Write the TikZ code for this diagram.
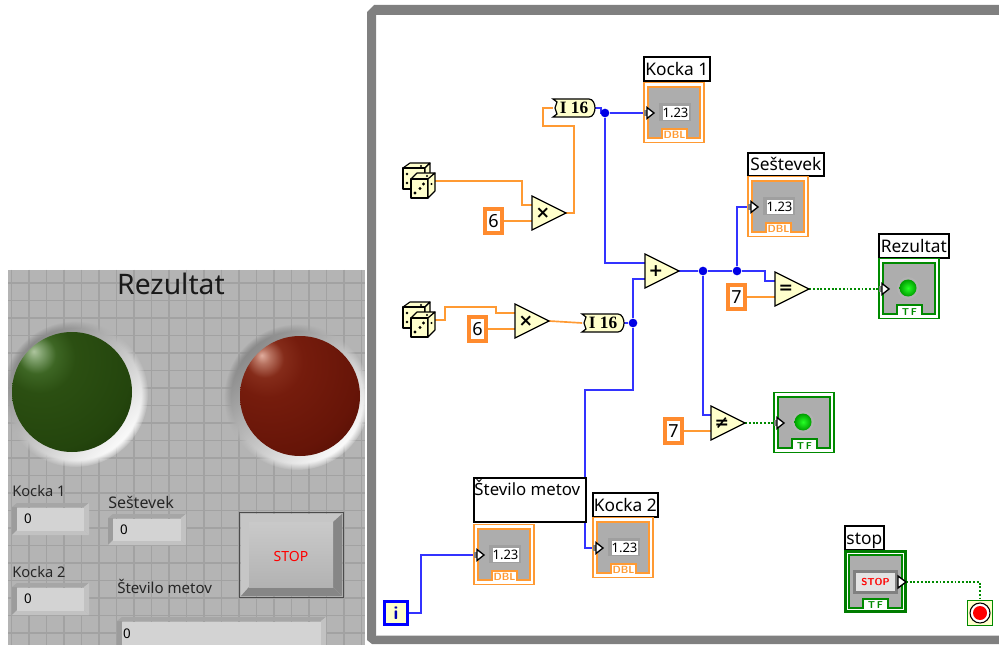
\documentclass[tikz,border=0pt]{standalone}
\usepackage{fontspec}
\setmainfont{Noto Sans}
\newfontfamily\symfont{DejaVu Sans}
\newfontfamily\serifb{Liberation Serif}
\usetikzlibrary{fadings,calc}
\definecolor{wireO}{HTML}{FF9A33}
\definecolor{wireB}{HTML}{3333FF}
\definecolor{wireG}{HTML}{008A00}
\definecolor{panelC}{HTML}{B4B4B4}
\definecolor{gridC}{HTML}{A2A2A2}
\definecolor{fieldC}{HTML}{D3D3D3}
\definecolor{termC}{HTML}{ADADAD}
\definecolor{paleY}{HTML}{FFFFCC}
\definecolor{frameC}{HTML}{808080}
\pgfdeclarelayer{bgl}\pgfdeclarelayer{wirel}\pgfsetlayers{bgl,wirel,main}
\pgfdeclareradialshading{greenball}{\pgfpoint{-16bp}{17bp}}{
 rgb(0bp)=(0.68,0.77,0.62);
 rgb(3bp)=(0.50,0.63,0.43);
 rgb(8bp)=(0.24,0.40,0.14);
 rgb(15bp)=(0.17,0.31,0.07);
 rgb(35bp)=(0.14,0.27,0.05);
 rgb(55bp)=(0.07,0.16,0.02);
 rgb(70bp)=(0.04,0.09,0.01);
 rgb(100bp)=(0.04,0.09,0.01)}
\pgfdeclareradialshading{redball}{\pgfpoint{-16bp}{17bp}}{
 rgb(0bp)=(0.88,0.68,0.62);
 rgb(3bp)=(0.72,0.45,0.38);
 rgb(8bp)=(0.52,0.17,0.10);
 rgb(15bp)=(0.46,0.11,0.05);
 rgb(35bp)=(0.40,0.08,0.03);
 rgb(55bp)=(0.26,0.04,0.01);
 rgb(70bp)=(0.14,0.02,0.01);
 rgb(100bp)=(0.14,0.02,0.01)}
\tikzset{
 x=0.75pt,y=-0.75pt,
 panellabel/.style={inner sep=0pt,anchor=west,font=\fontsize{11}{12}\selectfont,text=black!85},
 fieldval/.style={inner sep=0pt,fill=fieldC,align=left,font=\fontsize{10}{12}\selectfont},
 bdlabel/.style={draw=black,fill=white,line width=1.2pt,inner xsep=0.5pt,inner ysep=0pt,anchor=north west,font=\fontsize{13}{14}\selectfont,text height=13pt,text depth=3pt,align=left},
 constbox/.style={draw=wireO!90!red,fill=white,line width=2.8pt,minimum width=13pt,minimum height=18pt,inner sep=0pt,font=\fontsize{13.5}{14}\selectfont},
 gateshape/.style={draw=black,fill=paleY,line width=0.9pt,line join=miter},
 gatebox/.style={inner sep=0pt,minimum width=25.5pt,minimum height=25.5pt},
 gatesym/.style={inner sep=0pt,font=\symfont\bfseries\fontsize{13}{14}\selectfont},
 convbox/.style={inner sep=0pt,minimum width=31pt,minimum height=13.5pt,font=\serifb\bfseries\fontsize{13}{14}\selectfont},
 indicbox/.style={draw=#1,fill=white,line width=1.4pt,inner sep=0pt,minimum width=45.5pt,minimum height=45pt},
 wirea/.style={draw=wireO,line width=1.25pt},
 wireb/.style={draw=wireB,line width=1.5pt},
 wireg/.style={draw=wireG,line width=1.4pt,dash pattern=on 1.4pt off 1.4pt},
 joint/.style={circle,fill=blue!90!black,inner sep=0pt,minimum size=6.5pt},
 tagtext/.style={inner sep=0pt,font=\sffamily\bfseries\fontsize{7.8}{8}\selectfont},
 tftext/.style={inner sep=0pt,text=wireG,font=\sffamily\bfseries\fontsize{7.5}{8}\selectfont},
 numtext/.style={fill=white,inner sep=0pt,minimum width=19.5pt,minimum height=10.5pt,font=\fontsize{9.8}{10}\selectfont},
}
\newcommand\lvindicbase[4]{%
 \node[indicbox=#4] (#1) at (#2+31,#3+30.5) {};
 \filldraw[draw=#4,fill=termC,line width=1.7pt] (#2+5,#3+5) -- (#2+57,#3+5) -- (#2+57,#3+56) -- (#2+44,#3+56) -- (#2+44,#3+47) -- (#2+19,#3+47) -- (#2+19,#3+56) -- (#2+5,#3+56) -- cycle;
 \coordinate (#1-t) at (#2+4,#3+31);
}
\newcommand\lvterm[2]{%
 \fill[gray] (#1+1,#2+28) rectangle (#1+6,#2+34);
 \filldraw[draw=black,fill=white,line width=1pt] (#1+4,#2+25.5) -- (#1+11,#2+31) -- (#1+4,#2+36.5) -- cycle;
}
\newcommand\lvnum[3]{%
 \lvindicbase{#1}{#2}{#3}{wireO}
 \fill[gray!75] (#2+16,#3+21) rectangle (#2+48,#3+39);
 \node[numtext] (#1-n) at (#2+32.5,#3+31) {1.23};
 \lvterm{#2}{#3}
 \node[tagtext,text=wireO] (#1-k) at (#2+31.5,#3+53) {DBL};
}
\newcommand\lvled[3]{%
 \lvindicbase{#1}{#2}{#3}{wireG}
 \fill[gray!60] (#2+30,#3+30) circle (11);
 \shade[inner color=green!85!white,outer color=green!62!black] (#2+30,#3+30) circle (8.5);
 \lvterm{#2}{#3}
 \node[tftext] (#1-k) at (#2+31.5,#3+54) {T\,F};
}
\newcommand\lvgate[4]{%
 \filldraw[gateshape] (#2,#3) -- (#2+34,#3+17) -- (#2,#3+34) -- cycle;
 \node[gatebox] (#1) at (#2+17,#3+17) {};
 \node[gatesym] (#1-s) at (#2+11,#3+17) {#4};
 \coordinate (#1-a) at (#2,#3+9);
 \coordinate (#1-b) at (#2,#3+25);
}
\newcommand\lvconv[3]{%
 \filldraw[draw=black,fill=paleY,line width=0.9pt] (#2,#3) -- (#2+36,#3) .. controls (#2+40,#3) and (#2+42,#3+5) .. (#2+42,#3+9) .. controls (#2+42,#3+13) and (#2+40,#3+18) .. (#2+36,#3+18) -- (#2,#3+18) -- (#2+4,#3+15) -- (#2+2,#3+9) -- (#2+4,#3+3) -- cycle;
 \node[convbox] (#1) at (#2+21,#3+9) {I 16};
}
\newcommand\lvdice[3]{%
 \node[inner sep=0pt,minimum width=24pt,minimum height=25.5pt] (#1) at (#2+16,#3+17) {};
 \begin{scope}[line width=0.85pt,draw=black,fill=paleY,line join=round]
 \filldraw (#2,#3+4) -- (#2+7,#3-1) -- (#2+27,#3-1) -- (#2+22,#3+4) -- cycle;
 \filldraw (#2,#3+4) rectangle (#2+22,#3+25);
 \filldraw (#2+22,#3+4) -- (#2+27,#3-1) -- (#2+27,#3+19) -- (#2+22,#3+25) -- cycle;
 \filldraw (#2+8,#3+15) -- (#2+14,#3+9) -- (#2+32,#3+9) -- (#2+25,#3+15) -- cycle;
 \filldraw (#2+8,#3+15) rectangle (#2+25,#3+34);
 \filldraw (#2+25,#3+15) -- (#2+32,#3+9) -- (#2+32,#3+27) -- (#2+25,#3+34) -- cycle;
 \end{scope}
 \fill (#2+12,#3+29) circle (1.6) (#2+17,#3+24.5) circle (1.6) (#2+20.5,#3+20) circle (1.6) (#2+4,#3+10) circle (1.4) (#2+4,#3+19) circle (1.4) (#2+18,#3+2) circle (1.2) (#2+24,#3+12) circle (1.2) (#2+28.5,#3+20) circle (1.1);
}
\newcommand\lvfield[6]{%
 \fill[gray!78] (#2,#3+4) -- (#2+5,#3+4) -- (#2+5,#5-4) -- (#2,#5) -- cycle;
 \fill[gray!70] (#2,#3+4) -- (#2+5,#3) -- (#4,#3) -- (#4-5,#3+4) -- cycle;
 \fill[gray!48] (#4-5,#3+4) -- (#4,#3) -- (#4,#5) -- (#4-5,#5-5) -- cycle;
 \fill[gray!48] (#2,#5) -- (#2+5,#5-5) -- (#4-5,#5-5) -- (#4,#5) -- cycle;
 \node[fieldval,anchor=center,minimum width={(#4-#2-10)*0.75pt},minimum height={(#5-#3-9)*0.75pt},text width={(#4-#2-24)*0.75pt}] (#1) at ({(#2+#4)/2},{(#3+#5)/2}) {#6};
}
\begin{document}
\begin{tikzpicture}
\useasboundingbox (0,0) rectangle (999,645);
\clip (0,0) rectangle (999,645);
\begin{pgfonlayer}{bgl}
\fill[white] (0,0) rectangle (999,645);
\end{pgfonlayer}
% ---------- front panel ----------
\begin{scope}
\clip (8,270) rectangle (365,645);
\fill[panelC] (8,270) rectangle (365,645);
\foreach \k in {0,...,20}{
 \draw[gridC,line width=1.1pt] ({11.7+17.5*\k},270) -- ({11.7+17.5*\k},645);
 \draw[gridC,line width=1.1pt] (8,{283+17.5*\k}) -- (365,{283+17.5*\k});
}
\shade[left color=black!48,middle color=panelC,right color=white,shading angle=45,path fading=circle with fuzzy edge 10 percent] (75,394) circle (73);
\shade[left color=black!48,middle color=panelC,right color=white,shading angle=45,path fading=circle with fuzzy edge 10 percent] (297,397) circle (73);
\end{scope}
\node[inner sep=0pt,font=\fontsize{21.2}{23}\selectfont,text=black!90] (title) at (171,284) {Rezultat};
\shade[shading=greenball] (72,392) circle (60);
\shade[shading=redball] (300,396) circle (60);
\node[panellabel] (lk1) at (12,491) {Kocka 1};
\lvfield{fk1}{12}{503}{89}{535}{0}
\node[panellabel,font=\fontsize{12}{13}\selectfont] (lses) at (108,502) {Seštevek};
\lvfield{fses}{108}{514}{186}{545}{0}
\node[panellabel] (lk2) at (12,572) {Kocka 2};
\lvfield{fk2}{12}{583}{89}{615}{0}
\node[panellabel,font=\fontsize{11.3}{13}\selectfont] (lmet) at (117,586) {Število metov};
\lvfield{fmet}{117}{617}{326}{654}{}
\node[inner sep=0pt,font=\fontsize{10}{12}\selectfont] (fmetv) at (127,634) {0};
% stop button
\fill[gray!45] (241,514) rectangle (342,596);
\fill[gray!95] (342,514) -- (333,522) -- (333,587) -- (342,596) -- cycle;
\fill[gray!95] (241,596) -- (249,587) -- (333,587) -- (342,596) -- cycle;
\shade[top color=gray!42,bottom color=gray!60] (249,522) rectangle (333,587);
\draw[black!70,line width=1.1pt] (239.5,512.5) rectangle (343.5,597.5);
\node[inner sep=0pt,text=red,font=\fontsize{10.5}{12}\selectfont] (fstop) at (291,556) {STOP};
% ---------- block diagram frame ----------
\fill[frameC,even odd rule] (374,5) -- (1030,5) -- (1030,644) -- (372,644) -- (367,640) -- (367,12) -- cycle (376,15) rectangle (1030,635);
\draw[gray!35,line width=0.9pt] (376,635.5) -- (1030,635.5);
% ---------- indicators ----------
\node[bdlabel,minimum width=49.5pt,minimum height=18pt] (lbk1) at (643,56) {Kocka 1};
\lvnum{k1}{643}{82}
\node[bdlabel,minimum width=57pt,minimum height=17.25pt] (lbses) at (747,152) {Seštevek};
\lvnum{ses}{747}{176}
\node[bdlabel,minimum width=52.5pt,minimum height=18pt] (lbrez) at (878,233) {Rezultat};
\lvled{rez}{878}{258}
\lvled{led2}{773}{392}
\node[bdlabel,font=\fontsize{12.6}{14}\selectfont,text height=13pt,text depth=20pt] (lbmet) at (473,477) {\makebox[83pt][l]{Število metov}};
\lvnum{met}{473}{524}
\node[bdlabel,minimum width=48.75pt,minimum height=18pt] (lbk2) at (592,492) {Kocka 2};
\lvnum{k2}{592}{517}
% stop control
\node[bdlabel,minimum width=29.25pt,minimum height=18pt] (lbstop) at (844,525) {stop};
\node[draw=wireG!90!black,fill=white,line width=2.2pt,inner sep=0pt,minimum width=44.5pt,minimum height=44.5pt] (stp) at (875.5,581.5) {};
\filldraw[draw=wireG,fill=termC,line width=1.5pt] (849,555) -- (902,555) -- (902,608) -- (888,608) -- (888,599) -- (863,599) -- (863,608) -- (849,608) -- cycle;
\fill[white] (864,600) rectangle (887,610);
\fill[gray] (853,570) rectangle (898,594);
\node[fill=gray!22,inner sep=0pt,minimum width=29pt,minimum height=14pt,text=red,font=\sffamily\bfseries\fontsize{7.5}{8}\selectfont] (stpb) at (875.5,582) {STOP};
\filldraw[draw=black,fill=white,line width=1pt] (898,576) -- (906,582) -- (898,588) -- cycle;
\node[tftext] (stpk) at (875.5,605) {T\,F};
\coordinate (stp-t) at (906,582);
% stop terminal
\node[draw=wireG,fill=paleY,line width=1pt,inner sep=0pt,minimum width=19pt,minimum height=19pt] (sterm) at (980,613) {};
\filldraw[draw=black,fill=white,line width=0.8pt] (980,613) circle (10);
\fill[red] (980,613) circle (7);
% ---------- functions ----------
\lvdice{dice1}{403}{164}
\lvdice{dice2}{403}{303}
\node[constbox] (c6a) at (493.5,221) {6};
\node[constbox] (c6b) at (477.5,329) {6};
\node[constbox] (c7a) at (736.5,297) {7};
\node[constbox] (c7b) at (673.5,431) {7};
\lvgate{mula}{532}{196}{×}
\lvgate{mulb}{515}{304}{×}
\lvgate{add}{645}{254}{+}
\lvgate{eq}{775}{272}{=}
\lvgate{ne}{711}{406}{≠}
\lvconv{ia}{553}{99}
\lvconv{ib}{582}{314}
\node[draw=blue,fill=paleY,line width=2.6pt,inner sep=0pt,minimum width=17pt,minimum height=17pt,text=blue!70!black,font=\sffamily\bfseries\fontsize{14}{15}\selectfont] (loop) at (396,613) {i};
% junctions
\node[joint] (j1) at (605,113) {};
\node[joint] (j2) at (703,271) {};
\node[joint] (j3) at (737,271) {};
\node[joint] (j4) at (633,323) {};
% ---------- wires ----------
\begin{pgfonlayer}{wirel}
\draw[wirea] (dice1.east) -- (522,181) -- (522,205) -- (mula-a);
\draw[wirea] (c6a.east) -- (mula-b);
\draw[wirea] (mula.east) -- (574,213) -- (574,126) -- (543,126) -- (543,108) -- (ia.west);
\draw[wirea] (dice2.east) -- (445,320) -- (445,307) -- (496,307) -- (496,313) -- (mulb-a);
\draw[wirea] (c6b.east) -- (mulb-b);
\draw[wirea] (mulb.east) -- (ib.west);
\draw[wirea] (c7a.east) -- (eq-b);
\draw[wirea] (c7b.east) -- (ne-b);
\draw[wireb] (ia.east) -- (601,108) -- (601,113) -- (j1);
\draw[wireb] (j1) -- (k1-t);
\draw[wireb] (j1) -- (605,263) -- (add-a);
\draw[wireb] (add.east) -- (j2);
\draw[wireb] (j2) -- (j3);
\draw[wireb] (j3) -- (765,271) -- (765,281) -- (eq-a);
\draw[wireb] (j3) -- (737,207) -- (ses-t);
\draw[wireb] (j2) -- (703,415) -- (ne-a);
\draw[wireb] (ib.east) -- (j4);
\draw[wireb] (j4) -- (633,279) -- (add-b);
\draw[wireb] (j4) -- (633,390) -- (585,390) -- (585,548) -- (k2-t);
\draw[wireb] (loop.east) -- (421,613) -- (421,555) -- (met-t);
\draw[wireg] (eq.east) -- (rez-t);
\draw[wireg] (ne.east) -- (led2-t);
\draw[wireg] (stp-t) -- (980,582) -- (sterm.north);
\end{pgfonlayer}
\end{tikzpicture}
\end{document}
